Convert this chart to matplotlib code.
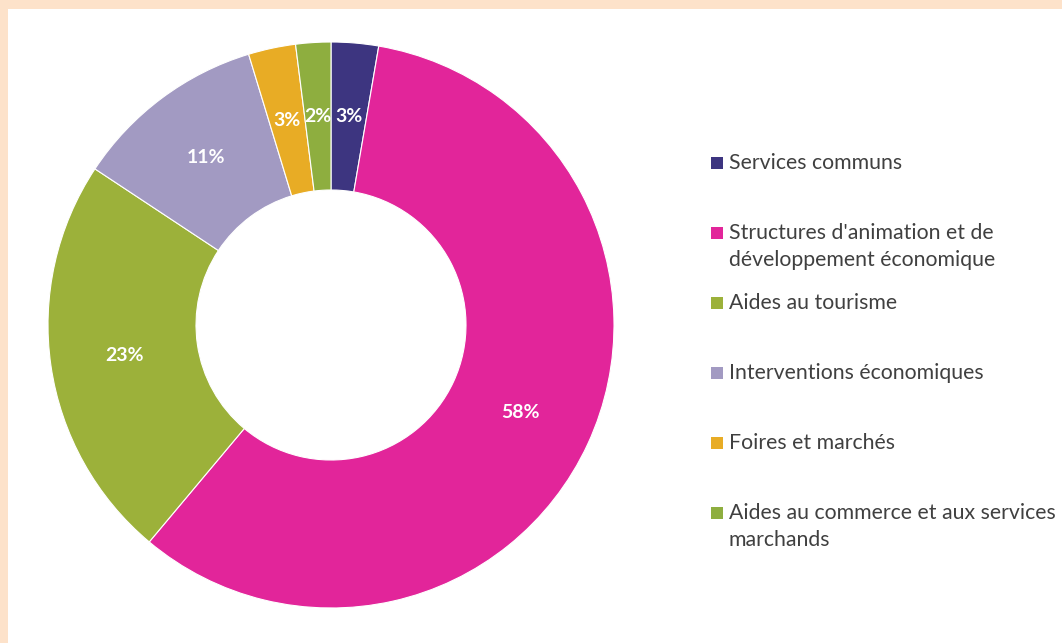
import matplotlib
matplotlib.use("Agg")
from matplotlib import pyplot as plt
from matplotlib.patches import Rectangle
import numpy as np

categories = ["Services communs",
              "Structures d'animation et de\ndéveloppement économique",
              "Aides au tourisme",
              "Interventions économiques",
              "Foires et marchés",
              "Aides au commerce et aux services\nmarchands"]
values = [2.7, 58.4, 23.2, 11.0, 2.7, 2.0]
labels = ["3%", "58%", "23%", "11%", "3%", "2%"]
colors = ["#3D3580", "#E2259A", "#9CB13A", "#A29AC2", "#E8AC25", "#8EAE3F"]

W, H = 1062, 643
fig = plt.figure(figsize=(W / 100, H / 100), dpi=100)
fig.patch.set_facecolor("#FDE2CA")
fig.patches.append(Rectangle((8 / W, 0), 1, 1 - 9 / H, transform=fig.transFigure,
                             facecolor="white", edgecolor="none", zorder=-5))

# pie area: centre (331, 325) px, outer radius 283 px
r = 283
ax = fig.add_axes([(331 - r) / W, (H - 325 - r) / H, 2 * r / W, 2 * r / H])
ax.set_zorder(2)
wedges, _ = ax.pie(values, colors=colors, startangle=90, counterclock=False,
                   radius=1, wedgeprops=dict(width=1 - 135 / r, edgecolor="white", linewidth=0.8))
for w, lab in zip(wedges, labels):
    ang = np.deg2rad((w.theta1 + w.theta2) / 2)
    rr = (1 + 135 / r) / 2
    ax.text(rr * np.cos(ang), rr * np.sin(ang), lab, ha="center", va="center",
            color="white", fontsize=14, fontweight="bold", family="Lato")
ax.set_xlim(-1, 1)
ax.set_ylim(-1, 1)
ax.set_aspect("equal")
ax.axis("off")

# legend
ys = [163, 233, 303, 373, 443, 513]
for c, lab, y in zip(colors, categories, ys):
    fig.patches.append(Rectangle((711 / W, (H - y - 6) / H), 12 / W, 12 / H,
                                 transform=fig.transFigure, facecolor=c, edgecolor="none"))
    fig.text(729 / W, (H - y + 10) / H, lab, ha="left", va="top", fontsize=15.3,
             color="#404040", family="Lato", linespacing=1.45)

fig.savefig("out.png", dpi=100, facecolor=fig.get_facecolor())
